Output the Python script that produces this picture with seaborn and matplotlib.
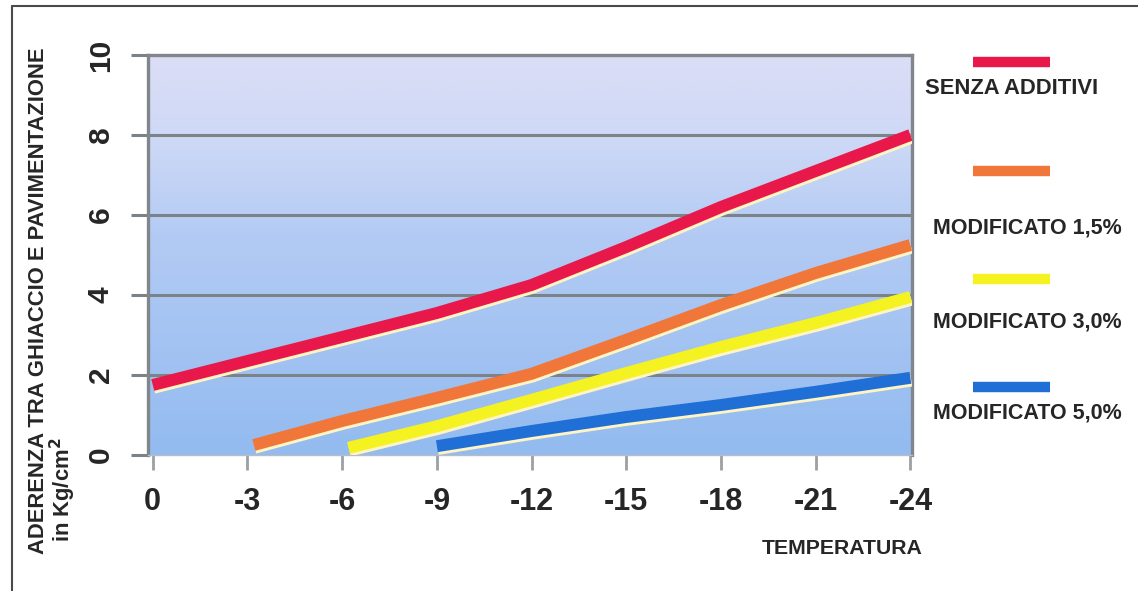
import numpy as np
import pandas as pd
import matplotlib
matplotlib.use("Agg")
import matplotlib.pyplot as plt
import matplotlib.patheffects as pe
from matplotlib.colors import LinearSegmentedColormap
from matplotlib.lines import Line2D
import seaborn as sns

# Adhesion between ice and pavement (kg/cm^2) versus temperature (deg C)
series_names = ["SENZA ADDITIVI", "MODIFICATO 1,5%", "MODIFICATO 3,0%", "MODIFICATO 5,0%"]

temp_senza = [0, -3, -6, -9, -12, -15, -18, -21, -24]
aderenza_senza = [1.75, 2.35, 2.95, 3.55, 4.25, 5.2, 6.2, 7.1, 8.0]

temp_mod15 = [-3.2, -6, -9, -12, -15, -18, -21, -24]
aderenza_mod15 = [0.25, 0.85, 1.43, 2.03, 2.88, 3.75, 4.55, 5.25]

temp_mod30 = [-6.2, -9, -12, -15, -18, -21, -24]
aderenza_mod30 = [0.18, 0.72, 1.38, 2.05, 2.7, 3.3, 3.95]

temp_mod50 = [-9, -12, -15, -18, -21, -24]
aderenza_mod50 = [0.22, 0.6, 0.95, 1.25, 1.58, 1.93]

x_ticks = [0, -3, -6, -9, -12, -15, -18, -21, -24]
y_ticks = [0, 2, 4, 6, 8, 10]

colors = ["#e8194a", "#f0763a", "#f4f220", "#1f6fd6"]

frames = []
for name, t, a in zip(series_names,
                      [temp_senza, temp_mod15, temp_mod30, temp_mod50],
                      [aderenza_senza, aderenza_mod15, aderenza_mod30, aderenza_mod50]):
    frames.append(pd.DataFrame({"temperatura": t, "aderenza": a, "serie": name}))
df = pd.concat(frames, ignore_index=True)

sns.set_style("white")
plt.rcParams["font.family"] = ["Liberation Sans", "DejaVu Sans"]
plt.rcParams["font.weight"] = "bold"

fig = plt.figure(figsize=(11.38, 5.91), dpi=100)
ax = fig.add_axes([148 / 1138, 1 - 455 / 591, (912 - 148) / 1138, 400 / 591])

# background gradient: light blue at the bottom fading to lavender at the top
cmap = LinearSegmentedColormap.from_list(
    "bg", [(0.0, "#93bbf0"), (0.55, "#b3cbf4"), (0.78, "#cdd8f6"), (1.0, "#dcdef6")])
grad = np.linspace(1, 0, 256).reshape(-1, 1)
ax.imshow(grad, cmap=cmap, aspect="auto", extent=[0.15, -24.05, 0, 10],
          zorder=0, interpolation="bicubic", vmin=0, vmax=1)

sns.lineplot(data=df, x="temperatura", y="aderenza", hue="serie",
             hue_order=series_names, palette=colors, linewidth=8.6,
             legend=False, ax=ax, sort=False, estimator=None, zorder=3)
for ln in ax.lines:
    ln.set_solid_capstyle("butt")
    ln.set_solid_joinstyle("round")
    ln.set_path_effects([
        pe.Stroke(linewidth=9.4, foreground="#fff4c4", offset=(0.6, -1.6)),
        pe.Normal()])

ax.set_xlim(0.15, -24.05)
ax.set_ylim(0, 10)
ax.set_xticks(x_ticks)
ax.set_xticklabels([str(v) for v in x_ticks])
ax.set_yticks(y_ticks)
ax.set_yticklabels([str(v) for v in y_ticks])
ax.set_xlabel("")
ax.set_ylabel("")

for v in [2, 4, 6, 8]:
    ax.axhline(v, color="#7b8288", linewidth=2.2, zorder=1)

for side in ["left", "right", "top"]:
    ax.spines[side].set_visible(True)
    ax.spines[side].set_color("#80868a")
    ax.spines[side].set_linewidth(2.4)
ax.spines["bottom"].set_color("#b8bcc4")
ax.spines["bottom"].set_linewidth(1.0)

ax.tick_params(axis="x", direction="out", length=11, width=2, color="#9aa0a4",
               labelsize=22, pad=12, bottom=True)
ax.tick_params(axis="y", direction="out", length=12, width=2.2, color="#7b8288",
               labelsize=21.5, pad=12, left=True, labelrotation=90)
for lbl in ax.get_yticklabels():
    lbl.set_verticalalignment("center")
for lbl in ax.get_xticklabels() + ax.get_yticklabels():
    lbl.set_fontweight("bold")

# axis titles
fig.text(39 / 1138, 1 - 301 / 591, "ADERENZA TRA GHIACCIO E PAVIMENTAZIONE",
         rotation=90, ha="center", va="center", fontsize=15.8, fontweight="bold")
fig.text(63 / 1138, 1 - 490 / 591, "in Kg/cm$^\\mathbf{2}$",
         rotation=90, ha="center", va="center", fontsize=15.8, fontweight="bold")
fig.text(842 / 1138, 1 - 548 / 591, "TEMPERATURA",
         ha="center", va="center", fontsize=15.3, fontweight="bold")

# legend: sample bar above each label
legend_sample_y = [62, 171, 279, 387]
legend_text_y = [89, 228, 322, 413]
legend_text_x = [1012, 1027, 1027, 1027]
legend_text_size = [15.8, 15.5, 15.5, 15.5]
for name, c, sy, ty, tx, fs in zip(series_names, colors, legend_sample_y,
                                   legend_text_y, legend_text_x, legend_text_size):
    fig.add_artist(Line2D([973 / 1138, 1050 / 1138], [1 - sy / 591, 1 - sy / 591],
                          color=c, linewidth=7.5, solid_capstyle="butt",
                          transform=fig.transFigure))
    fig.text(tx / 1138, 1 - ty / 591, name, ha="center", va="center",
             fontsize=fs, fontweight="bold")

# outer frame (top and left edges)
fig.add_artist(Line2D([12 / 1138, 1.0], [1 - 6 / 591, 1 - 6 / 591], color="#4a4a4a",
                      linewidth=1.5, transform=fig.transFigure))
fig.add_artist(Line2D([12 / 1138, 12 / 1138], [0.0, 1 - 6 / 591], color="#4a4a4a",
                      linewidth=1.5, transform=fig.transFigure))

fig.savefig("out.png", dpi=100, facecolor="white")
